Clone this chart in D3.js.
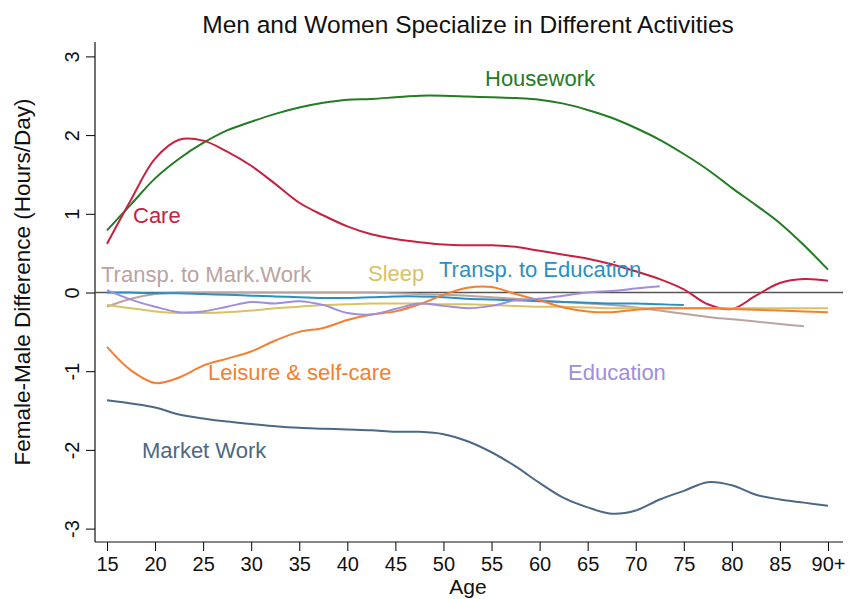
<!DOCTYPE html>
<html>
<head>
<meta charset="utf-8">
<script src="https://cdn.jsdelivr.net/npm/d3@7"></script>
<style>
  body { margin: 0; background: #fff; }
  svg { font-family: "Liberation Sans", Arial, sans-serif; }
</style>
</head>
<body>
<div id="d3"></div>
<script>
// ages (x), every 2.5 years; 90 = 90+
var ages = [15, 17.5, 20, 22.5, 25, 27.5, 30, 32.5, 35, 37.5, 40, 42.5, 45, 47.5, 50,
            52.5, 55, 57.5, 60, 62.5, 65, 67.5, 70, 72.5, 75, 77.5, 80, 82.5, 85, 87.5, 90];

var housework = [0.79, 1.12, 1.45, 1.70, 1.90, 2.06, 2.17, 2.27, 2.35, 2.41, 2.45, 2.46, 2.48, 2.50, 2.50,
                 2.49, 2.48, 2.47, 2.45, 2.40, 2.32, 2.22, 2.09, 1.94, 1.76, 1.56, 1.33, 1.11, 0.88, 0.60, 0.29];
var care = [0.62, 1.18, 1.70, 1.94, 1.93, 1.79, 1.61, 1.38, 1.14, 0.98, 0.84, 0.74, 0.68, 0.64, 0.61,
            0.60, 0.60, 0.58, 0.53, 0.48, 0.43, 0.36, 0.27, 0.17, 0.04, -0.15, -0.21, -0.04, 0.12, 0.17, 0.15];
var marketWork = [-1.37, -1.41, -1.46, -1.55, -1.60, -1.64, -1.67, -1.70, -1.72, -1.73, -1.74, -1.75, -1.77, -1.77, -1.80,
                  -1.89, -2.03, -2.21, -2.42, -2.61, -2.73, -2.81, -2.77, -2.63, -2.52, -2.41, -2.45, -2.57, -2.63, -2.67, -2.71];
var leisure = [-0.69, -0.99, -1.15, -1.08, -0.93, -0.84, -0.75, -0.61, -0.50, -0.45, -0.35, -0.28, -0.24, -0.15, -0.03,
               0.06, 0.07, -0.02, -0.10, -0.19, -0.24, -0.25, -0.22, -0.20, -0.20, -0.20, -0.21, -0.22, -0.23, -0.24, -0.25];
var sleep = [-0.16, -0.20, -0.24, -0.26, -0.26, -0.25, -0.23, -0.20, -0.18, -0.16, -0.15, -0.14, -0.14, -0.14, -0.15,
             -0.15, -0.16, -0.17, -0.18, -0.18, -0.19, -0.20, -0.20, -0.20, -0.20, -0.20, -0.20, -0.20, -0.20, -0.20, -0.20];
var transpEdu = [0.00, 0.00, -0.01, -0.01, -0.02, -0.03, -0.04, -0.05, -0.06, -0.07, -0.07, -0.06, -0.05, -0.05, -0.06,
                 -0.08, -0.09, -0.10, -0.11, -0.12, -0.13, -0.14, -0.14, -0.15, -0.16, null, null, null, null, null, null];
var transpWork = [-0.18, -0.08, -0.02, 0.00, 0.00, 0.00, 0.00, 0.00, 0.00, 0.00, 0.00, 0.00, -0.01, -0.02, -0.03,
                  -0.04, -0.06, -0.08, -0.10, -0.12, -0.14, -0.16, -0.19, -0.23, -0.27, -0.31, -0.34, -0.37, -0.40, -0.43, null];
var education = [0.03, -0.09, -0.18, -0.25, -0.24, -0.18, -0.12, -0.14, -0.11, -0.16, -0.26, -0.28, -0.21, -0.14, -0.17,
                 -0.20, -0.17, -0.10, -0.08, -0.04, 0.00, 0.02, 0.05, 0.08, null, null, null, null, null, null, null];

var xTicks = [15, 20, 25, 30, 35, 40, 45, 50, 55, 60, 65, 70, 75, 80, 85, 90];
var xTickLabels = ["15", "20", "25", "30", "35", "40", "45", "50", "55", "60", "65", "70", "75", "80", "85", "90+"];
var yTicks = [-3, -2, -1, 0, 1, 2, 3];
var yTickLabels = ["-3", "-2", "-1", "0", "1", "2", "3"];

var series = [
  {name: "Housework", values: housework, color: "#237b23", lx: 485, ly: 86},
  {name: "Care", values: care, color: "#c8213f", lx: 133, ly: 223},
  {name: "Transp. to Mark.Work", values: transpWork, color: "#bba39f", lx: 101, ly: 282},
  {name: "Sleep", values: sleep, color: "#d9c264", lx: 368, ly: 281},
  {name: "Transp. to Education", values: transpEdu, color: "#2a90c4", lx: 439, ly: 277},
  {name: "Leisure & self-care", values: leisure, color: "#f47f30", lx: 208, ly: 380},
  {name: "Education", values: education, color: "#9f8edb", lx: 568, ly: 380},
  {name: "Market Work", values: marketWork, color: "#4b6887", lx: 142, ly: 458}
];

var width = 849, height = 599;
var svg = d3.select("#d3").append("svg")
    .attr("width", width)
    .attr("height", height);

var x = d3.scaleLinear().domain([15, 90]).range([107, 828]);
var y = d3.scaleLinear().domain([-3, 3]).range([528.6, 56.4]);

// title
svg.append("text")
    .attr("x", 468)
    .attr("y", 33)
    .attr("text-anchor", "middle")
    .attr("font-size", "24.5px")
    .attr("fill", "#111")
    .text("Men and Women Specialize in Different Activities");

// axes
var xAxis = svg.append("g")
    .attr("transform", "translate(0,542)")
    .call(d3.axisBottom(x).tickValues(xTicks)
        .tickFormat(function(d, i) { return xTickLabels[i]; })
        .tickSize(9).tickSizeOuter(0).tickPadding(6));
xAxis.select(".domain").remove();
xAxis.selectAll("text").attr("font-size", "20px").attr("fill", "#111")
    .attr("font-family", "Liberation Sans, Arial, sans-serif");

var yAxis = svg.append("g")
    .attr("transform", "translate(95,0)")
    .call(d3.axisLeft(y).tickValues(yTicks)
        .tickFormat(function(d, i) { return yTickLabels[i]; })
        .tickSize(9).tickSizeOuter(0));
yAxis.select(".domain").remove();
yAxis.selectAll("text")
    .attr("font-size", "20px").attr("fill", "#111")
    .attr("font-family", "Liberation Sans, Arial, sans-serif")
    .attr("text-anchor", "middle")
    .attr("dy", null)
    .attr("x", null)
    .attr("transform", "translate(-21,0) rotate(-90)")
    .attr("y", 0)
    .attr("dominant-baseline", "middle");

svg.append("line")
    .attr("x1", 95).attr("x2", 95).attr("y1", 42).attr("y2", 542)
    .attr("stroke", "#111").attr("stroke-width", 1.2);
svg.append("line")
    .attr("x1", 95).attr("x2", 843).attr("y1", 542).attr("y2", 542)
    .attr("stroke", "#111").attr("stroke-width", 1.2);

// zero line
svg.append("line")
    .attr("x1", 95).attr("x2", 843).attr("y1", y(0)).attr("y2", y(0))
    .attr("stroke", "#555").attr("stroke-width", 1.5);

// axis titles
svg.append("text")
    .attr("transform", "translate(30,282) rotate(-90)")
    .attr("text-anchor", "middle")
    .attr("font-size", "22.5px")
    .attr("fill", "#111")
    .text("Female-Male Difference (Hours/Day)");

svg.append("text")
    .attr("x", 468)
    .attr("y", 594)
    .attr("text-anchor", "middle")
    .attr("font-size", "21px")
    .attr("fill", "#111")
    .text("Age");

// lines
var line = d3.line()
    .defined(function(d) { return d[1] !== null; })
    .x(function(d) { return x(d[0]); })
    .y(function(d) { return y(d[1]); })
    .curve(d3.curveCatmullRom.alpha(0.5));

svg.selectAll("path.series")
    .data(series).enter()
    .append("path")
    .attr("class", "series")
    .attr("fill", "none")
    .attr("stroke", function(d) { return d.color; })
    .attr("stroke-width", 2)
    .attr("d", function(d) {
        return line(ages.map(function(a, i) { return [a, d.values[i]]; }));
    });

// labels
svg.selectAll("text.lab")
    .data(series).enter()
    .append("text")
    .attr("class", "lab")
    .attr("x", function(d) { return d.lx; })
    .attr("y", function(d) { return d.ly; })
    .attr("font-size", "22px")
    .attr("fill", function(d) { return d.color; })
    .text(function(d) { return d.name; });
</script>
</body>
</html>
